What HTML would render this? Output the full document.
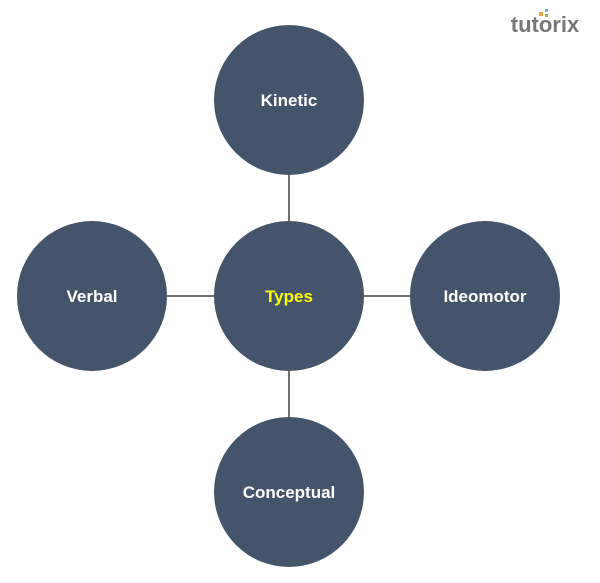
<!DOCTYPE html>
<html><head><style>body{margin:0;background:#fff}</style></head><body>
<svg width="600" height="583" xmlns="http://www.w3.org/2000/svg" style="display:block">
<rect width="600" height="583" fill="#fff"/>
<g stroke="#404040" stroke-width="1.5">
<line x1="289" y1="175" x2="289" y2="221"/>
<line x1="289" y1="371" x2="289" y2="417"/>
<line x1="167" y1="296" x2="214" y2="296"/>
<line x1="364" y1="296" x2="410" y2="296"/>
</g>
<g fill="#44546a">
<circle cx="289" cy="100" r="75"/>
<circle cx="289" cy="296" r="75"/>
<circle cx="92" cy="296" r="75"/>
<circle cx="485" cy="296" r="75"/>
<circle cx="289" cy="492" r="75"/>
</g>
<g font-family="Liberation Sans, sans-serif" font-weight="bold" font-size="17" fill="#fff" text-anchor="middle">
<text x="289" y="106">Kinetic</text>
<text x="289" y="302" fill="#ffff00">Types</text>
<text x="92" y="302">Verbal</text>
<text x="485" y="302">Ideomotor</text>
<text x="289" y="498">Conceptual</text>
</g>
<text x="545" y="32" font-family="Liberation Sans, sans-serif" font-weight="bold" font-size="22" fill="#777" text-anchor="middle">tutorix</text>
<rect x="539" y="12" width="4" height="4" fill="#f0a040"/>
<rect x="545" y="9" width="3" height="3" fill="#60b0e0"/>
<rect x="545" y="14" width="3" height="3" fill="#90c040"/>
</svg>
</body></html>
